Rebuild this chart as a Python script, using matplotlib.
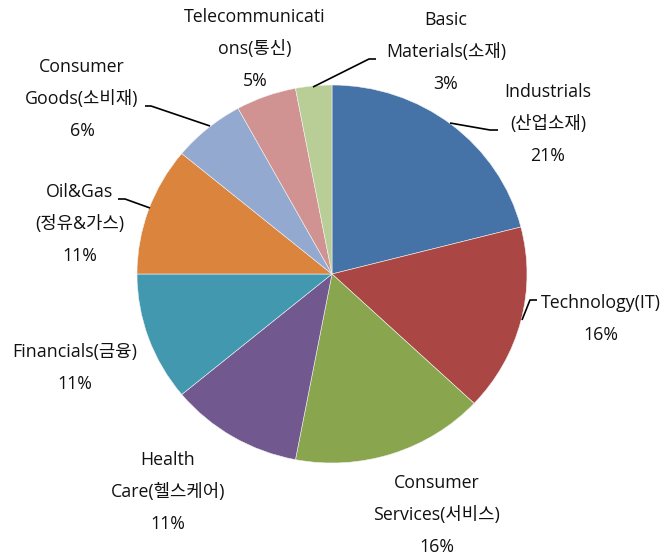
import matplotlib
matplotlib.use('Agg')
import matplotlib.pyplot as plt

plt.rcParams['font.family'] = ['Open Sans', 'Noto Sans CJK KR', 'DejaVu Sans']

# ---- data ----
categories = [
    ["Industrials", "(산업소재)"],
    ["Technology(IT)"],
    ["Consumer", "Services(서비스)"],
    ["Health", "Care(헬스케어)"],
    ["Financials(금융)"],
    ["Oil&Gas", "(정유&가스)"],
    ["Consumer", "Goods(소비재)"],
    ["Telecommunicati", "ons(통신)"],
    ["Basic", "Materials(소재)"],
]
values = [21, 16, 16, 11, 11, 11, 6, 5, 3]
colors = ["#4572A7", "#AA4643", "#89A54E", "#71588F", "#4198AF",
          "#DB843D", "#93A9CF", "#D19392", "#B9CD96"]

# ---- layout (pixel coordinates) ----
W, H = 662, 558
CX, CY, RX, RY = 332, 274, 195, 189
label_pos = [(548, 92), (601, 303), (437, 483), (168, 460), (75, 352),
             (80, 192), (82, 67), (255, 17), (446, 20)]
line_step = 32
leaders = [
    [(450, 123), (490, 130), (498, 130)],
    [(522, 320), (530, 300), (537, 300)],
    None, None, None,
    [(150, 208), (125, 199), (118, 199)],
    [(210, 126), (151, 106), (145, 106)],
    None,
    [(313, 87), (369, 59), (376, 59)],
]

def d(px, py):
    return (px - CX) / RX, (CY - py) / RY

fig = plt.figure(figsize=(W / 100, H / 100), dpi=100)
ax = fig.add_axes([0, 0, 1, 1])
ax.pie(values, colors=colors, startangle=90, counterclock=False, radius=1,
       wedgeprops=dict(edgecolor='#f2f2f2', linewidth=0.4))
ax.set_aspect('auto')
ax.set_xlim(-CX / RX, (W - CX) / RX)
ax.set_ylim(-(H - CY) / RY, CY / RY)
ax.axis('off')

for cat, v, (lx, ly), ld in zip(categories, values, label_pos, leaders):
    lines = cat + [f"{v}%"]
    for i, t in enumerate(lines):
        x, y = d(lx, ly + i * line_step)
        ax.text(x, y, t, ha='center', va='center', fontsize=12.8, color='#111111')
    if ld:
        xs, ys = zip(*[d(px, py) for px, py in ld])
        ax.plot(xs, ys, color='black', lw=1.2, solid_capstyle='butt')

fig.savefig('out.png', dpi=100)
